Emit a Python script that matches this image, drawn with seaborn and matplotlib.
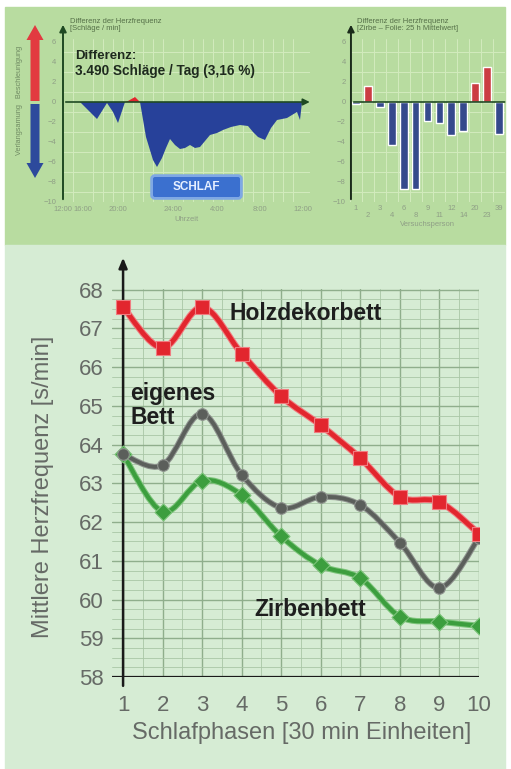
import numpy as np
import pandas as pd
import matplotlib
matplotlib.use('Agg')
import matplotlib.pyplot as plt
import seaborn as sns
from matplotlib.path import Path
from matplotlib.patches import PathPatch, Rectangle, FancyArrow, FancyBboxPatch
import matplotlib.patheffects as pe

sns.set_style('white')
plt.rcParams['font.family'] = ['Liberation Sans', 'DejaVu Sans']

# --- data -----------------------------------------------------------------
# top left: difference of heart rate over the day (hours after 12:00)
hours = [0, 1.7, 2.5, 3.4, 4.4, 5.0, 5.5, 6.2, 6.5, 7.2, 7.7, 8.3, 9.0, 9.4, 9.9,
         10.3, 10.7, 11.2, 11.7, 12.2, 12.7, 13.2, 13.7, 14.2, 14.7, 15.4, 16.0,
         16.8, 17.7, 18.5, 19.0, 19.5, 20.2, 20.8, 21.4, 22.4, 23.4, 23.7, 23.9]
diff = [0, 0, -0.8, -1.7, -0.1, -1.0, -2.1, 0, 0.1, 0.5, 0, -3.5, -5.8, -6.5, -5.6,
        -4.6, -3.7, -4.3, -4.7, -4.6, -4.3, -4.6, -4.5, -3.9, -3.3, -3.1, -2.8,
        -2.5, -2.3, -2.4, -3.0, -3.5, -3.8, -2.6, -1.8, -1.6, -1.0, -1.8, 0]
time_ticks = [0, 2, 5.5, 11, 15.4, 19.7, 24]
time_labels = ['12:00', '16:00', '20:00', '24:00', '4:00', '8:00', '12:00']

# top right: difference per test person
persons = ['1', '2', '3', '4', '6', '8', '9', '11', '12', '14', '20', '23', '39']
person_diff = [-0.2, 1.6, -0.5, -4.3, -8.7, -8.7, -1.9, -2.1, -3.3, -2.9, 1.9, 3.5, -3.2]

# bottom: mean heart rate per sleep phase
phases = [1, 2, 3, 4, 5, 6, 7, 8, 9, 10]
holz = [67.55, 66.5, 67.55, 66.35, 65.25, 64.5, 63.65, 62.65, 62.52, 61.7]
eigen = [63.75, 63.47, 64.8, 63.22, 62.37, 62.65, 62.44, 61.47, 60.3, 61.6]
zirbe = [63.75, 62.27, 63.07, 62.7, 61.63, 60.88, 60.55, 59.56, 59.43, 59.32]

RED = '#e2262e'
BLUE = '#27419a'
GRAY = '#5b5f5b'
GREEN = '#3c9e3e'
DKGREEN = '#1f4a22'
W, H = 511, 769

fig = plt.figure(figsize=(W / 100, H / 100), dpi=100)
fig.patch.set_facecolor('white')


def fx(px):
    return px / W


def fy(py):
    return 1 - py / H


def inch(px, py):
    return px / 100, (H - py) / 100


# panel backgrounds
fig.patches.append(Rectangle((fx(5), fy(245)), fx(500), 238 / H, transform=fig.transFigure,
                             color='#b8dca0', zorder=-10))
fig.patches.append(Rectangle((fx(5), 0), fx(500), fy(245), transform=fig.transFigure,
                             color='#d6ecd4', zorder=-10))

# ---------------- top left area chart ------------------------------------
ax1 = fig.add_axes([fx(63), fy(202), fx(247), 163 / H])
ax1.set_facecolor('none')
ax1.set_xlim(0, 24.7)
ax1.set_ylim(-10, 6.3)
ax1.set_xticks(np.arange(0, 25, 1), minor=True)
ax1.set_yticks(np.arange(-10, 7, 1), minor=True)
ax1.grid(which='minor', color='#d2ebbd', lw=0.7)
ax1.set_axisbelow(True)
h = np.array(hours)
d = np.array(diff)
ax1.fill_between(h, d, 0, where=d <= 0, interpolate=True, color=BLUE, lw=0, zorder=2)
ax1.fill_between(h, d, 0, where=d >= 0, interpolate=True, color=RED, lw=0, zorder=2)
ax1.set_yticks(np.arange(-10, 7, 2))
ax1.set_xticks(time_ticks)
ax1.set_xticklabels(time_labels)
ax1.tick_params(axis='both', which='major', labelsize=5.5, labelcolor='#8f9f86', length=0, pad=3)
ax1.tick_params(axis='y', which='major', length=3, color='#8f9f86', pad=2)
ax1.tick_params(which='minor', length=0)
for s in ax1.spines.values():
    s.set_visible(False)
ax1.annotate('', xy=(24.95, 0), xytext=(0, 0), annotation_clip=False,
             arrowprops=dict(arrowstyle='-|>,head_width=0.2,head_length=0.4', color=DKGREEN, lw=1.2))
ax1.annotate('', xy=(0, 8.0), xytext=(0, -10), annotation_clip=False,
             arrowprops=dict(arrowstyle='-|>,head_width=0.2,head_length=0.4', color=DKGREEN, lw=1.4))
ax1.set_xlabel('Uhrzeit', fontsize=5.5, color='#8f9f86', labelpad=2)

fig.text(fx(70), fy(25), 'Differenz der Herzfrequenz\n[Schläge / min]', fontsize=5.5,
         color='#557048', va='center', linespacing=1.1)
fig.text(fx(75), fy(56), 'Differenz:', fontsize=9.5, fontweight='bold', color='#1e2a1e', va='center')
fig.text(fx(75), fy(71), '3.490 Schläge / Tag (3,16 %)', fontsize=9.8, fontweight='bold',
         color='#1e2a1e', va='center')

# red / blue arrows on the left
x0, yr = inch(35, 101)
fig.patches.append(FancyArrow(x0, yr, 0, 0.76, width=0.09, head_width=0.17, head_length=0.15,
                              length_includes_head=True, color='#e23a40', lw=0,
                              transform=fig.dpi_scale_trans))
x0, yb = inch(35, 104)
fig.patches.append(FancyArrow(x0, yb, 0, -0.74, width=0.09, head_width=0.17, head_length=0.15,
                              length_includes_head=True, color='#2d4a9c', lw=0,
                              transform=fig.dpi_scale_trans))
fig.text(fx(20), fy(100), 'Verlangsamung   Beschleunigung', rotation=90, fontsize=5.3,
         color='#6f8a62', ha='center', va='center')

# SCHLAF box
bx, by = inch(153, 197)
fig.patches.append(FancyBboxPatch((bx, by), 0.87, 0.20, boxstyle='round,pad=0,rounding_size=0.02',
                                  color='#3b70cf', lw=0, transform=fig.dpi_scale_trans,
                                  path_effects=[pe.withStroke(linewidth=4, foreground='#7fa8e4')]))
fig.text(fx(196), fy(187), 'SCHLAF', fontsize=8.5, fontweight='bold', color='#e6efff',
         ha='center', va='center')

# ---------------- top right bar chart ------------------------------------
ax2 = fig.add_axes([fx(350), fy(202), fx(155), 163 / H])
ax2.set_facecolor('none')
bars = pd.DataFrame({'person': persons, 'diff': person_diff})
bars['sign'] = np.where(bars['diff'] >= 0, 'pos', 'neg')
sns.barplot(data=bars, x='person', y='diff', hue='sign', palette={'pos': RED, 'neg': BLUE},
            width=0.65, legend=False, ax=ax2, zorder=3)
ax2.set_xlim(-0.42, 12.5)
ax2.set_ylim(-10, 6.3)
ax2.set_xticks(np.arange(-0.5, 12.6, 0.5), minor=True)
ax2.set_yticks(np.arange(-10, 7, 1), minor=True)
ax2.grid(which='minor', color='#d2ebbd', lw=0.7)
ax2.set_axisbelow(True)
ax2.set_yticks(np.arange(-10, 7, 2))
ax2.tick_params(axis='both', which='major', labelsize=5.5, labelcolor='#8f9f86', length=0, pad=3)
ax2.tick_params(which='minor', length=0)
for i, t in enumerate(ax2.xaxis.get_major_ticks()):
    t.set_pad(7 if i % 2 else 2)
for s in ax2.spines.values():
    s.set_visible(False)
ax2.annotate('', xy=(12.7, 0), xytext=(-0.42, 0), annotation_clip=False,
             arrowprops=dict(arrowstyle='-', color=DKGREEN, lw=1.2))
ax2.annotate('', xy=(-0.42, 8.0), xytext=(-0.42, -10), annotation_clip=False,
             arrowprops=dict(arrowstyle='-|>,head_width=0.2,head_length=0.4', color='#1a2a1a', lw=1.4))
ax2.set_xlabel('Versuchsperson', fontsize=5.5, color='#8f9f86', labelpad=2)
ax2.set_ylabel('')
fig.text(fx(357), fy(25), 'Differenz der Herzfrequenz\n[Zirbe – Folie: 25 h Mittelwert]',
         fontsize=5.5, color='#557048', va='center', linespacing=1.1)

# ---------------- bottom line chart --------------------------------------
ax3 = fig.add_axes([fx(112), fy(677), fx(367), 388 / H])
ax3.set_facecolor('none')
ax3.set_xlim(0.72, 10)
ax3.set_ylim(58, 68.02)
ax3.set_xticks(np.arange(1, 11, 1))
ax3.set_yticks(np.arange(58, 69, 1))
ax3.set_xticks(np.arange(1, 10.01, 0.5), minor=True)
ax3.set_yticks(np.arange(58, 68.01, 0.25), minor=True)
ax3.grid(which='major', color='#8fae8c', lw=1.0)
ax3.grid(which='minor', color='#a9c6a6', lw=0.6)
ax3.set_axisbelow(True)
ax3.tick_params(which='both', length=0)
ax3.tick_params(axis='both', labelsize=16, labelcolor='#666a66')
ax3.tick_params(axis='x', pad=13)
ax3.tick_params(axis='y', pad=6)
for s in ax3.spines.values():
    s.set_visible(False)
ax3.axhline(58, color='#1a1a1a', lw=1.6, zorder=4)
ax3.annotate('', xy=(1, 68.9), xytext=(1, 57.7), annotation_clip=False,
             arrowprops=dict(arrowstyle='-|>,head_width=0.25,head_length=0.6', color='#1a1a1a', lw=1.8),
             zorder=4)


def smooth_path(xs, ys):
    # Catmull-Rom segments expressed as cubic Bezier curves through the data points
    pts = np.column_stack([xs, ys]).astype(float)
    ext = np.vstack([pts[0], pts, pts[-1]])
    verts = [tuple(pts[0])]
    codes = [Path.MOVETO]
    for i in range(1, len(ext) - 2):
        p0, p1, p2, p3 = ext[i - 1], ext[i], ext[i + 1], ext[i + 2]
        verts += [tuple(p1 + (p2 - p0) / 6), tuple(p2 - (p3 - p1) / 6), tuple(p2)]
        codes += [Path.CURVE4] * 3
    return Path(verts, codes)


lines = pd.DataFrame({'phase': phases * 3, 'hr': holz + eigen + zirbe,
                      'bett': ['holz'] * 10 + ['eigen'] * 10 + ['zirbe'] * 10})
styles = {'zirbe': (GREEN, 'D', 75, 3.0, '#7cc47a'),
          'eigen': (GRAY, 'o', 70, 2.8, '#8f948f'),
          'holz': (RED, 's', 95, 3.4, '#f07c80')}
for key in ['zirbe', 'eigen', 'holz']:
    col, mk, size, lw, halo = styles[key]
    sub = lines[lines['bett'] == key]
    ax3.add_patch(PathPatch(smooth_path(sub['phase'], sub['hr']), fill=False, ec=col, lw=lw,
                            capstyle='round', joinstyle='round', zorder=5,
                            path_effects=[pe.withStroke(linewidth=lw + 1.5, foreground=halo)]))
    sns.scatterplot(data=sub, x='phase', y='hr', marker=mk, s=size, color=col, edgecolor=halo,
                    linewidth=0.8, ax=ax3, zorder=6, legend=False)

ax3.set_xlabel('Schlafphasen [30 min Einheiten]', fontsize=17, color='#666a66')
ax3.set_ylabel('Mittlere Herzfrequenz [s/min]', fontsize=17, color='#666a66')
ax3.yaxis.set_label_coords((54 - 112) / 367, (677 - 487) / 388)
ax3.xaxis.set_label_coords((302 - 112) / 367, -(732 - 677 - 10) / 388)

ax3.text(3.68, 67.4, 'Holzdekorbett', fontsize=16.5, fontweight='bold', color='#1e1e1e', va='center')
ax3.text(1.18, 65.0, 'eigenes\nBett', fontsize=16.5, fontweight='bold', color='#1e1e1e', va='center',
         linespacing=1.05)
ax3.text(4.33, 59.75, 'Zirbenbett', fontsize=16.5, fontweight='bold', color='#1e1e1e', va='center')

fig.savefig('out.png', dpi=100)
